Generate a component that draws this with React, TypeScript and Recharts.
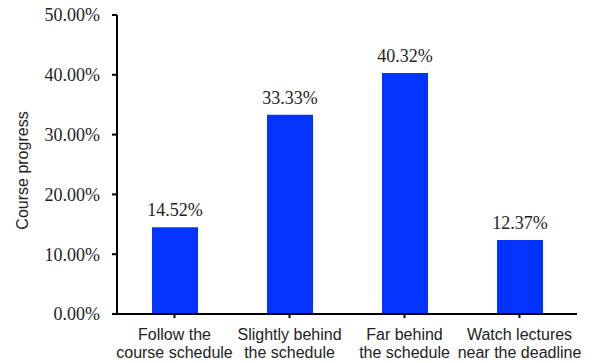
import { BarChart, Bar, XAxis, YAxis, LabelList } from "recharts";

// Share of learners per course-progress group (percent)
const categories = [
  "Follow the\ncourse schedule",
  "Slightly behind\nthe schedule",
  "Far behind\nthe schedule",
  "Watch lectures\nnear the deadline",
];
const shares = [14.52, 33.33, 40.32, 12.37];
const yTicks = [0, 10, 20, 30, 40, 50];

const data = categories.map((name, i) => ({ name, share: shares[i] }));

const SERIF = "'Liberation Serif', 'Times New Roman', serif";
const SANS = "'Liberation Sans', Arial, Helvetica, sans-serif";
const BAR_BLUE = "#0433FF";

const fmt = (v: number) => `${v.toFixed(2)}%`;

// two-line category label under each bar
function CategoryTick({ x, y, payload }: any) {
  const lines = String(payload.value).split("\n");
  return (
    <text
      x={x}
      y={y}
      textAnchor="middle"
      fontFamily={SANS}
      fontSize={16}
      fill="#222"
    >
      {lines.map((line, i) => (
        <tspan key={i} x={x} dy={i === 0 ? 20 : 18}>
          {line}
        </tspan>
      ))}
    </text>
  );
}

export default function App() {
  return (
    <div style={{ position: "absolute", left: 0, top: 0, background: "#fff" }}>
      <BarChart
        width={597}
        height={363}
        data={data}
        margin={{ top: 15, right: 20, left: 0, bottom: 0 }}
        barSize={46}
      >
        <XAxis
          dataKey="name"
          height={49}
          interval={0}
          axisLine={{ stroke: "#000", strokeWidth: 2 }}
          tickLine={{ stroke: "#000", strokeWidth: 2 }}
          tickSize={4}
          tick={<CategoryTick />}
        />
        <YAxis
          width={117}
          domain={[0, 50]}
          ticks={yTicks}
          tickFormatter={fmt}
          axisLine={{ stroke: "#000", strokeWidth: 2 }}
          tickLine={{ stroke: "#000", strokeWidth: 2 }}
          tickSize={5}
          tickMargin={12}
          tick={{ fontFamily: SERIF, fontSize: 18, fill: "#222" }}
          label={{
            value: "Course progress",
            angle: -90,
            position: "insideLeft",
            dx: 17,
            dy: 6,
            style: {
              textAnchor: "middle",
              fontFamily: SANS,
              fontSize: 16,
              fill: "#222",
            },
          }}
        />
        <Bar dataKey="share" fill={BAR_BLUE} isAnimationActive={false}>
          <LabelList
            dataKey="share"
            position="top"
            offset={11}
            formatter={(v: any) => fmt(Number(v))}
            style={{ fontFamily: SERIF, fontSize: 18, fill: "#222" }}
          />
        </Bar>
      </BarChart>
    </div>
  );
}
